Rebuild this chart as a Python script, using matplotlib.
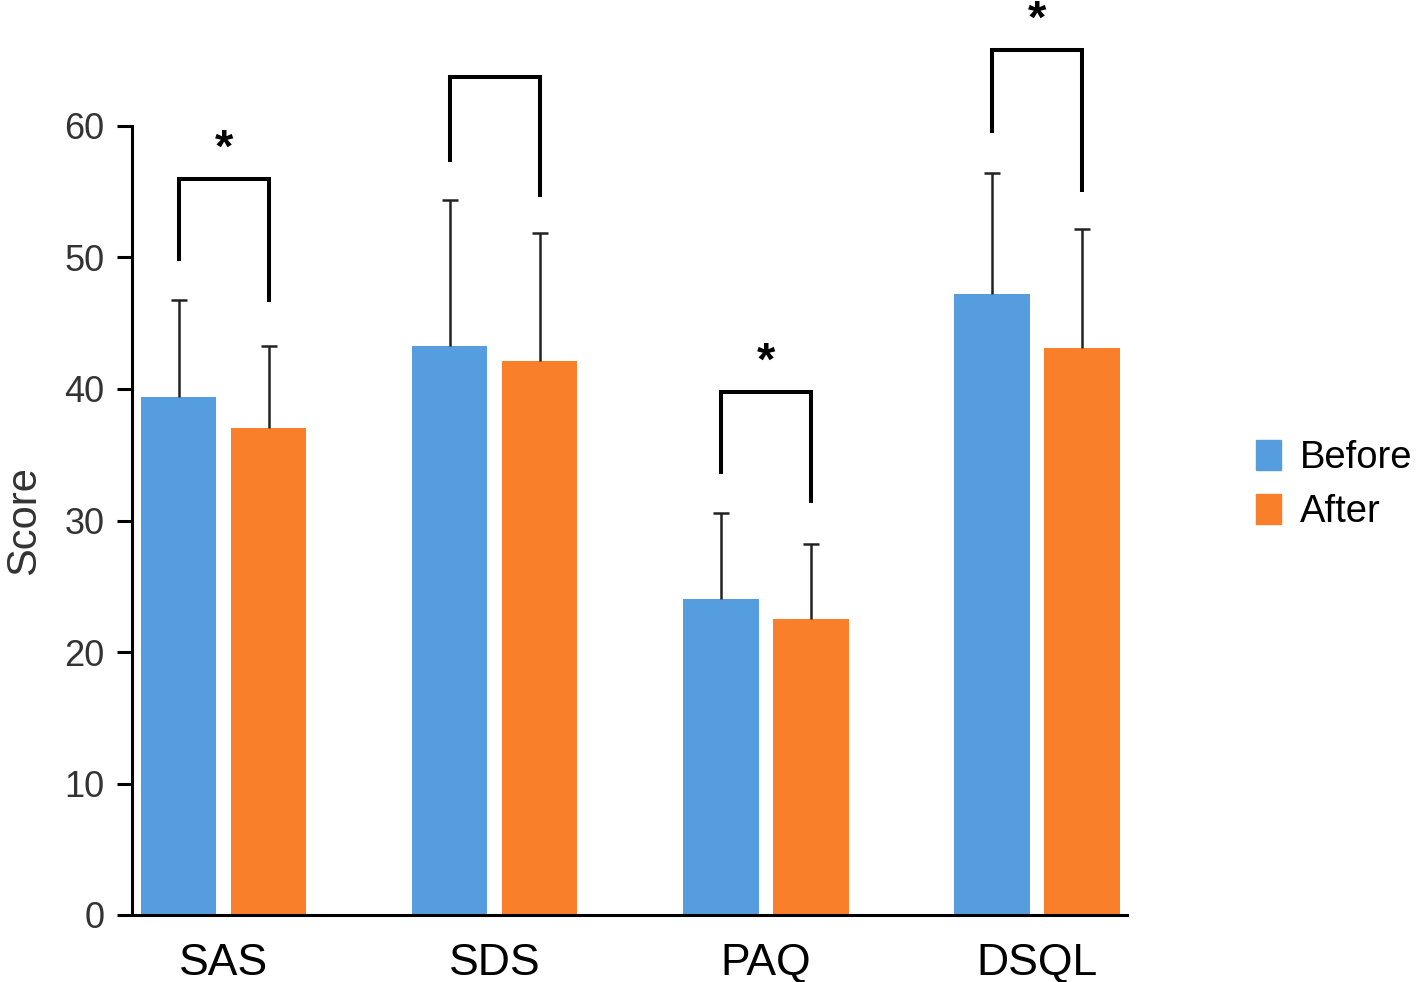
import numpy as np
import matplotlib.pyplot as plt
from matplotlib.patches import Patch

plt.rcParams['font.family'] = ['Liberation Sans', 'DejaVu Sans']

# data
groups = ['SAS', 'SDS', 'PAQ', 'DSQL']
before = [39.4, 43.3, 24.0, 47.2]
after = [37.0, 42.1, 22.5, 43.1]
before_sd = [7.4, 11.1, 6.6, 9.2]
after_sd = [6.3, 9.8, 5.7, 9.1]

# significance brackets: top, left leg end, right leg end, star shown
br_top = [56.0, 63.7, 39.8, 65.8]
br_left = [49.7, 57.3, 33.5, 59.5]
br_right = [46.6, 54.6, 31.3, 55.0]
br_star = [True, False, True, True]

blue = '#569DDF'
orange = '#F97F2A'

fig = plt.figure(figsize=(14.17, 9.82), dpi=100)
ax = fig.add_axes([132/1417, 67/982, 995/1417, 789/982])

x = np.arange(len(groups))
w = 0.277
off = 0.166

err_kw = dict(ecolor='#222222', elinewidth=1.8, capthick=1.8, capsize=5.8)
b1 = ax.bar(x - off, before, w, color=blue, yerr=[np.zeros(4), before_sd], error_kw=err_kw, zorder=2)
b2 = ax.bar(x + off, after, w, color=orange, yerr=[np.zeros(4), after_sd], error_kw=err_kw, zorder=2)
# only the upper cap is shown
for b in (b1, b2):
    caps = b.errorbar.lines[1]
    caps[0].set_visible(False)

for i in range(len(groups)):
    xl = x[i] - off
    xr = x[i] + off
    ax.plot([xl, xl, xr, xr], [br_left[i], br_top[i], br_top[i], br_right[i]],
            color='black', lw=2.9, clip_on=False, solid_capstyle='butt', solid_joinstyle='miter')
    if br_star[i]:
        ax.text(x[i], br_top[i] + 2.2, '*', ha='center', va='center', fontsize=34,
                fontweight='bold', clip_on=False)

ax.set_xlim(-0.339, 3.332)
ax.set_ylim(0, 60)
ax.set_yticks([0, 10, 20, 30, 40, 50, 60])
ax.set_xticks(x)
ax.set_xticklabels(groups, fontsize=32, color='black')
ax.tick_params(axis='x', length=0, pad=20)
ax.tick_params(axis='y', length=11, width=2.2, pad=9, labelsize=26, labelcolor='#333333')
ax.set_ylabel('Score', fontsize=30, color='#333333', labelpad=14)

for s in ['top', 'right']:
    ax.spines[s].set_visible(False)
for s in ['left', 'bottom']:
    ax.spines[s].set_linewidth(2.2)

handles = [Patch(color=blue, label='Before'), Patch(color=orange, label='After')]
fig.legend(handles=handles, loc='center left', bbox_to_anchor=(1241/1417, 1 - 485/982),
           frameon=False, fontsize=27.5, handlelength=0.65, handleheight=0.85,
           handletextpad=0.5, labelspacing=0.45, borderaxespad=0)

fig.savefig('out.png', dpi=100)
